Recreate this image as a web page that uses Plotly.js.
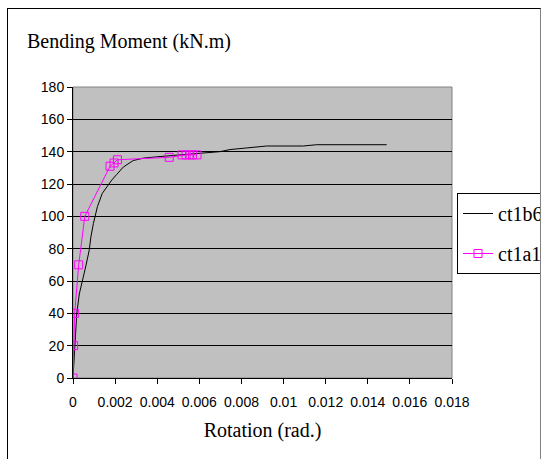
<!DOCTYPE html>
<html>
<head>
<meta charset="utf-8">
<script src="https://cdn.plot.ly/plotly-3.0.1.min.js"></script>
<style>
html,body{margin:0;padding:0;background:#fff;overflow:hidden;width:548px;height:459px;}
#chart{position:absolute;left:0;top:0;width:620px;height:459px;}
#cover{position:absolute;left:541px;top:0;width:100px;height:459px;background:#fff;}
#frame{position:absolute;left:7px;top:8px;width:534px;height:470px;border-left:1px solid #000;border-top:1px solid #000;border-right:1px solid #808080;box-sizing:border-box;pointer-events:none;}
</style>
</head>
<body>
<div id="chart"></div>
<div id="cover"></div>
<div id="frame"></div>
<script>
const seriesNames = ["ct1b6", "ct1a1"];

const ct1b6X = [0, 0.00013, 0.00018, 0.0003, 0.00046, 0.0006, 0.00077, 0.00085, 0.00097, 0.00116, 0.00139, 0.0016, 0.00184, 0.00207, 0.00239, 0.00286, 0.00334, 0.00397, 0.00461, 0.0054, 0.00603, 0.00698, 0.00746, 0.00825, 0.0092, 0.01094, 0.01157, 0.0149];
const ct1b6Y = [0, 29.5, 40, 52, 60.5, 68.7, 79, 87.3, 95.6, 106, 114.2, 118.3, 122.4, 125.8, 130.5, 134.5, 136, 136.8, 137.4, 138, 139, 140, 141.3, 142.3, 143.5, 143.5, 144.3, 144.3];

const ct1a1X = [0, 0.00003, 0.00008, 0.00027, 0.00056, 0.00176, 0.00195, 0.00211, 0.00457, 0.00518, 0.00537, 0.00554, 0.00568, 0.00589];
const ct1a1Y = [0, 20, 40, 70, 100, 131, 133, 135, 136.5, 138, 138, 138, 138, 138];

const xTickVals = [0, 0.002, 0.004, 0.006, 0.008, 0.01, 0.012, 0.014, 0.016, 0.018];
const xTickText = ["0", "0.002", "0.004", "0.006", "0.008", "0.01", "0.012", "0.014", "0.016", "0.018"];
const yTickVals = [0, 20, 40, 60, 80, 100, 120, 140, 160, 180];

const SERIF = "Liberation Serif";
const SANS = "Liberation Sans";

const traces = [
  {x: ct1b6X, y: ct1b6Y, name: seriesNames[0], type: "scatter", mode: "lines",
   line: {color: "#000000", width: 1}, legendgroup: "a"},
  {x: ct1a1X, y: ct1a1Y, name: seriesNames[1], type: "scatter", mode: "lines+markers",
   line: {color: "#FF00FF", width: 1},
   marker: {symbol: "square-open", size: 8, color: "#FF00FF", line: {width: 1, color: "#FF00FF"}},
   legendgroup: "b"}
];

const layout = {
  width: 620, height: 459,
  margin: {l: 73, r: 168, t: 87, b: 81, pad: 0},
  paper_bgcolor: "rgba(0,0,0,0)",
  plot_bgcolor: "#C0C0C0",
  showlegend: true,
  font: {family: SANS, color: "#000"},
  title: {text: "Bending Moment (kN.m)", font: {family: SERIF, size: 20, color: "#000"},
          xref: "container", yref: "container", x: 27/620, xanchor: "left", y: 1 - 41/459, yanchor: "middle"},
  xaxis: {range: [0, 0.018], tickvals: xTickVals, ticktext: xTickText, showgrid: false, zeroline: false,
          showline: true, linecolor: "#000", linewidth: 1, ticks: "outside", ticklen: 5, tickcolor: "#000",
          tickfont: {family: SANS, size: 14, color: "#000"},
          ticklabelstandoff: 6,
          title: {text: "Rotation (rad.)", font: {family: SERIF, size: 20, color: "#000"}, standoff: 14}},
  yaxis: {range: [0, 180], tickvals: yTickVals, showgrid: true, gridcolor: "#000", gridwidth: 1, zeroline: false,
          showline: true, linecolor: "#000", linewidth: 1, ticks: "outside", ticklen: 5, tickcolor: "#000",
          tickfont: {family: SANS, size: 14, color: "#000"}},
  legend: {x: (457-73)/379, xanchor: "left", y: (378-193)/291, yanchor: "top",
           bgcolor: "#fff", bordercolor: "#000", borderwidth: 1, traceorder: "grouped", tracegroupgap: 11,
           font: {family: SERIF, size: 20, color: "#000"}},
  shapes: [
    {type: "rect", xref: "paper", yref: "paper", x0: 0, x1: 1, y0: 0, y1: 1, line: {color: "#808080", width: 1}, layer: "below"}
  ]
};

Plotly.newPlot("chart", traces, layout, {displayModeBar: false, staticPlot: true});
</script>
</body>
</html>
